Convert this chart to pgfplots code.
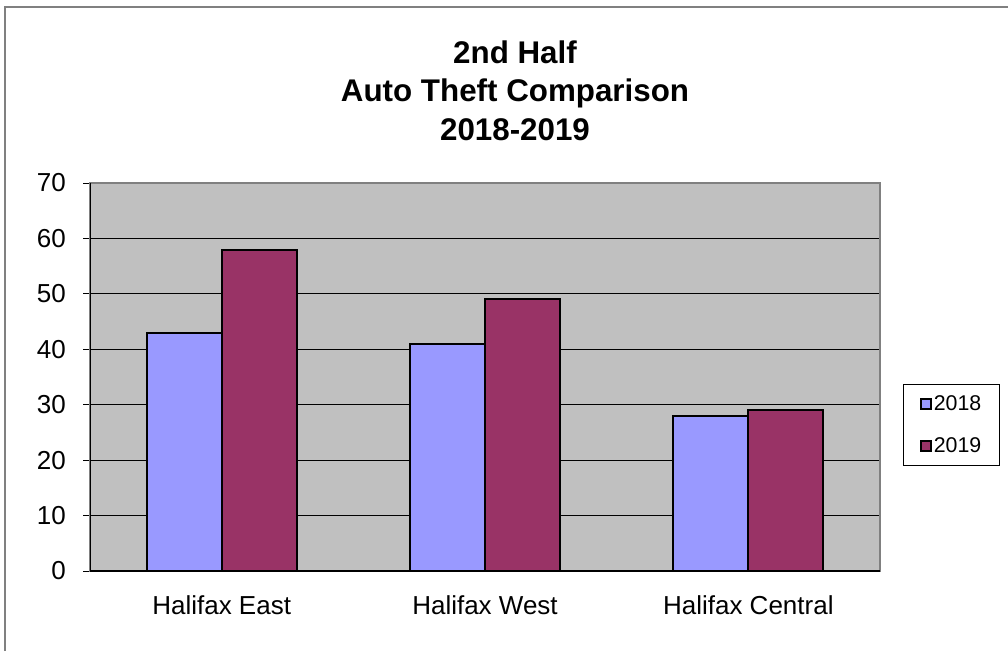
\documentclass[border=0pt]{standalone}
\usepackage{pgfplots}
\pgfplotsset{compat=1.18}
\usepackage{fontspec}
\setmainfont{Liberation Sans}
\definecolor{bgray}{HTML}{C0C0C0}
\definecolor{fgray}{HTML}{808080}
\definecolor{c2018}{HTML}{9999FF}
\definecolor{c2019}{HTML}{993366}
\begin{document}
\begin{tikzpicture}
  % 1 px of the reference = 0.75pt
  \useasboundingbox (0pt,0pt) rectangle (756pt,488.25pt);
  % outer chart frame (only left and top edges visible)
  \draw[fgray, line width=1.5pt] (3.75pt,0pt) -- (3.75pt,483pt) -- (756pt,483pt);

  \begin{axis}[
    at={(67.5pt,60pt)}, anchor=south west,
    scale only axis, width=592.5pt, height=291pt,
    ybar, bar width=56.25pt, ybar=0pt,
    xmin=-0.5, xmax=2.5, ymin=0, ymax=70,
    ytick={0,10,...,70},
    xtick={0,1,2},
    tick pos=left,
    xticklabels={Halifax East, Halifax West, Halifax Central},
    major x tick style={draw=none},
    extra x ticks={-0.5,0.5,1.5,2.5},
    extra x tick labels={},
    extra x tick style={major tick length=6pt,
      major x tick style={black, line width=0.6pt}, grid=none},
    tick align=outside,
    major tick length=5pt,
    ytick style={black, line width=0.6pt},
    ymajorgrids, grid style={black, line width=0.6pt},
    axis line style={fgray, line width=1.5pt},
    axis background/.style={fill=bgray},
    /pgf/number format/assume math mode=true,
    ticklabel style={font=\fontsize{19.5}{22}\selectfont},
    yticklabel style={inner sep=0pt, xshift=-13pt},
    xticklabel style={inner sep=0pt, yshift=-13.5pt},
    legend style={at={(1.0291,0.482)}, anchor=north west,
      draw=black, line width=0.6pt, fill=white,
      font=\fontsize{16}{19}\selectfont,
      inner xsep=12.5pt, inner ysep=7.5pt, row sep=16.5pt,
      nodes={inner sep=1pt}},
    legend cell align=left,
    legend image code/.code={\draw[#1, line width=1.8pt] (0.75pt,-3.75pt) rectangle (8.25pt,3.75pt);},
  ]
    \addplot[fill=c2018, draw=black, line width=1.5pt] coordinates {(0,43) (1,41) (2,28)};
    \addlegendentry{2018}
    \addplot[fill=c2019, draw=black, line width=1.5pt] coordinates {(0,58) (1,49) (2,29)};
    \addlegendentry{2019}
    \draw[black, line width=1.2pt] (rel axis cs:0,0) -- (rel axis cs:0,1);
    \draw[black, line width=1.2pt] (rel axis cs:0,0) -- (rel axis cs:1,0);
  \end{axis}

  \node[anchor=base, font=\bfseries\fontsize{23.5}{28}\selectfont] at (386.25pt,440.25pt) {2nd Half};
  \node[anchor=base, font=\bfseries\fontsize{23.5}{28}\selectfont] at (386.25pt,411.75pt) {Auto Theft Comparison};
  \node[anchor=base, font=\bfseries\fontsize{23.5}{28}\selectfont] at (386.25pt,382.5pt) {2018-2019};
\end{tikzpicture}
\end{document}
